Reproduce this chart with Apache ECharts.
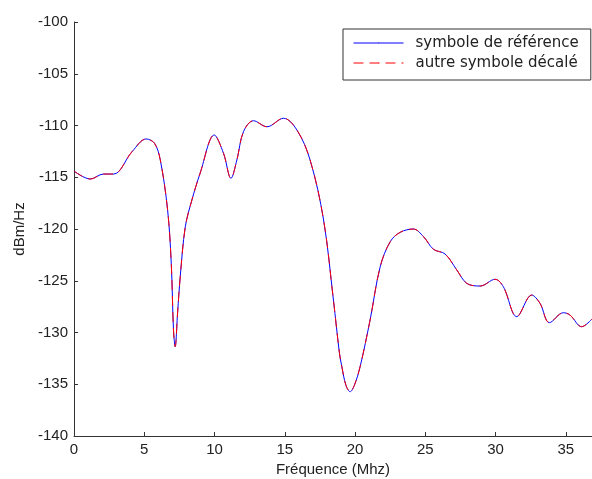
<!DOCTYPE html>
<html>
<head>
<meta charset="utf-8">
<script src="https://cdn.jsdelivr.net/npm/echarts@6/dist/echarts.min.js"></script>
<style>
  html, body { margin: 0; padding: 0; background: #fff; }
  #chart { width: 592px; height: 479px; }
</style>
</head>
<body>
<div id="chart"></div>
<script>
// frequency (MHz) and spectral level (dBm/Hz)
const freq = [0, 1.16, 2.1, 2.82, 4.13, 5.14, 5.73, 6.14, 6.66, 6.92, 7.08, 7.2, 7.37, 7.56, 7.92, 8.39, 8.98, 9.98, 10.64, 11.17, 11.59, 12.06, 12.77, 13.73, 14.91, 15.86, 16.8, 17.76, 18.46, 18.89, 19.06, 19.35, 19.65, 19.95, 20.36, 21.07, 21.79, 22.5, 23.21, 24.15, 24.87, 25.58, 26.41, 27.24, 27.95, 28.9, 29.97, 30.55, 31.51, 32.57, 33.16, 33.83, 34.82, 35.29, 36.13, 36.84];
const reference = [-114.4, -115.17, -114.69, -114.69, -112.53, -111.3, -111.72, -113.33, -118.16, -123.29, -129.76, -131.37, -128.12, -124.61, -119.78, -117.2, -114.59, -110.92, -112.69, -115.1, -113.33, -110.6, -109.54, -110.12, -109.3, -110.43, -113.33, -119.13, -126.86, -132.01, -133.3, -135.1, -135.72, -135.1, -133.3, -128.79, -123.64, -121.23, -120.32, -120.0, -120.74, -121.96, -122.42, -123.96, -125.25, -125.51, -124.86, -125.57, -128.47, -126.38, -127.18, -129.05, -128.09, -128.31, -129.44, -128.72];
const shifted = [-114.4, -115.17, -114.69, -114.69, -112.53, -111.3, -111.72, -113.33, -118.16, -123.29, -129.76, -131.37, -128.12, -124.61, -119.78, -117.2, -114.59, -110.92, -112.69, -115.1, -113.33, -110.6, -109.54, -110.12, -109.3, -110.43, -113.33, -119.13, -126.86, -132.01, -133.3, -135.1, -135.72, -135.1, -133.3, -128.79, -123.64, -121.23, -120.32, -120.0, -120.74, -121.96, -122.42, -123.96, -125.25, -125.51, -124.86, -125.57, -128.47, -126.38, -127.18, -129.05, -128.09, -128.31, -129.44, -128.72];

const xRange = { min: 0, max: 36.86, interval: 5 };
const yRange = { min: -140, max: -100, interval: 5 };

const chart = echarts.init(document.getElementById('chart'));

const font = 'Liberation Sans';
const axisLine = { show: true, lineStyle: { color: '#333', width: 1 } };
const axisTick = { show: true, inside: true, length: 4, lineStyle: { color: '#333' } };
const nameStyle = { color: '#222', fontSize: 15, fontFamily: font };

chart.setOption({
  animation: false,
  grid: { left: 74, top: 22, right: 0, bottom: 43, outerBoundsMode: 'none' },
  legend: {
    orient: 'vertical',
    left: 343,
    top: 29,
    padding: [6, 12, 9, 10],
    itemGap: 4,
    itemWidth: 50,
    itemHeight: 1,
    borderColor: '#333',
    borderWidth: 1,
    borderRadius: 0,
    lineStyle: { width: 1 },
    textStyle: { color: '#222', fontSize: 15, lineHeight: 16, fontFamily: 'DejaVu Sans', padding: [0, 0, 0, 7] },
    data: ['symbole de référence', 'autre symbole décalé']
  },
  xAxis: {
    type: 'value',
    min: xRange.min,
    max: xRange.max,
    interval: xRange.interval,
    name: 'Fréquence (Mhz)',
    nameLocation: 'middle',
    nameGap: 24,
    nameTextStyle: nameStyle,
    axisLine: axisLine,
    axisTick: axisTick,
    axisLabel: { color: '#222', fontSize: 15, fontFamily: font, margin: 6, showMaxLabel: false },
    splitLine: { show: false }
  },
  yAxis: {
    type: 'value',
    min: yRange.min,
    max: yRange.max,
    interval: yRange.interval,
    name: 'dBm/Hz',
    nameLocation: 'middle',
    nameGap: 42,
    nameTextStyle: nameStyle,
    axisLine: axisLine,
    axisTick: axisTick,
    axisLabel: { color: '#222', fontSize: 15, fontFamily: font, margin: 6 },
    splitLine: { show: false }
  },
  series: [
    {
      name: 'symbole de référence',
      type: 'line',
      smooth: 0.35,
      symbol: 'none',
      data: freq.map((f, i) => [f, reference[i]]),
      lineStyle: { color: '#0000ff', width: 1 },
      itemStyle: { color: '#0000ff' }
    },
    {
      name: 'autre symbole décalé',
      type: 'line',
      smooth: 0.35,
      symbol: 'none',
      data: freq.map((f, i) => [f, shifted[i]]),
      lineStyle: { color: '#ff0000', width: 1, type: [10, 6] },
      itemStyle: { color: '#ff0000' }
    }
  ]
});
</script>
</body>
</html>
